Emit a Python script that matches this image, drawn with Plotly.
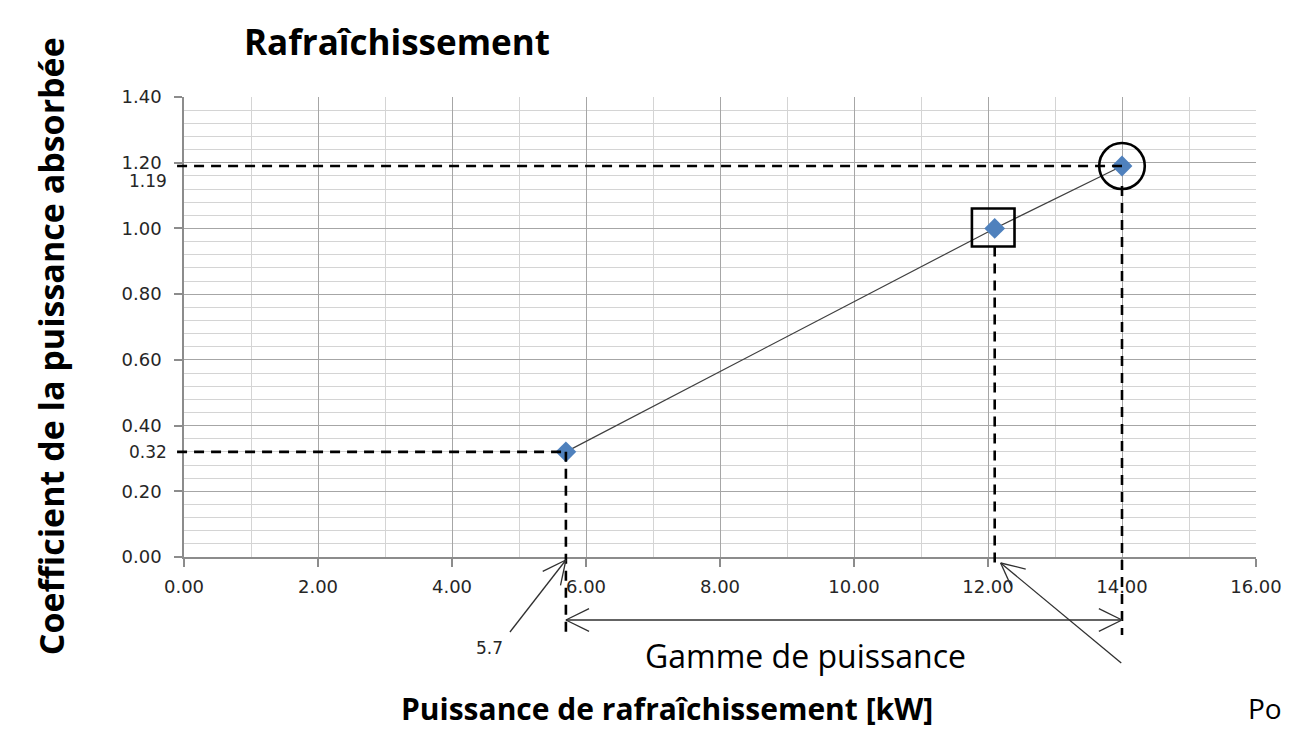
import math
import plotly.graph_objects as go

# ---- data ----
puissance_kw = [5.7, 12.1, 14.0]
coefficient = [0.32, 1.00, 1.19]
point_labels = ["5.7", "12.1", "14.0"]
x_tick_vals = [0, 2, 4, 6, 8, 10, 12, 14, 16]
x_tick_text = ["0.00", "2.00", "4.00", "6.00", "8.00", "10.00", "12.00", "14.00", "16.00"]
y_tick_vals = [0, 0.2, 0.4, 0.6, 0.8, 1.0, 1.2, 1.4]
y_tick_text = ["0.00", "0.20", "0.40", "0.60", "0.80", "1.00", "1.20", "1.40"]
title_text = "Rafraîchissement"
x_title = "Puissance de rafraîchissement [kW]"
y_title = "Coefficient de la puissance absorbée"
range_text = "Gamme de puissance"

# ---- layout geometry (pixels) ----
W, H = 1294, 732
L, R, T, B = 184, 1266, 97, 557
XMAX, YMAX = 16.0, 1.4


def xpx(v):
    return L + v / XMAX * (R - L)


def ypx(v):
    return B - v / YMAX * (B - T)


def px(x, y):
    return (x - L) / (R - L), (B - y) / (B - T)


shapes = []
DASH = dict(color="black", width=2.6, dash="10px,7px")
SOLID = dict(color="#303030", width=1.3)


def pline(x0, y0, x1, y1, line):
    a, b = px(x0, y0)
    c, d = px(x1, y1)
    shapes.append(dict(type="line", xref="paper", yref="paper",
                       x0=a, y0=b, x1=c, y1=d, line=line, layer="above"))


def arrowhead(tx, ty, fx, fy, length=26, half=26):
    ang = math.atan2(fy - ty, fx - tx)
    for s in (-1, 1):
        a = ang + s * math.radians(half)
        pline(tx, ty, tx + length * math.cos(a), ty + length * math.sin(a), SOLID)


x1, x2, x3 = (xpx(v) for v in puissance_kw)
y1, y2, y3 = (ypx(v) for v in coefficient)

# dashed guide lines
pline(177, y3, x3, y3, DASH)
pline(177, y1, x1, y1, DASH)
pline(x1, y1, x1, 635, DASH)
pline(x2, y2 + 18, x2, 569, DASH)
pline(x3, y3 + 20, x3, 635, DASH)

# range double arrow
ya = 620
pline(x1, ya, x3, ya, SOLID)
arrowhead(x1, ya, x3, ya)
arrowhead(x3, ya, x1, ya)

# pointer arrows
pline(513, 632, x1, 560, SOLID)
arrowhead(x1, 560, 513, 632)
pline(1130, 663, x2 + 6, 563, SOLID)
arrowhead(x2 + 6, 563, 1130, 663)

# highlight circle and square
cx0, cy0 = px(x3 - 23, y3 - 23)
cx1, cy1 = px(x3 + 23, y3 + 23)
shapes.append(dict(type="circle", xref="paper", yref="paper", x0=cx0, y0=cy0,
                   x1=cx1, y1=cy1, line=dict(color="black", width=2.6), layer="above"))
sx0, sy0 = px(x2 - 23, y2 - 20)
sx1, sy1 = px(x2 + 20, y2 + 18)
shapes.append(dict(type="rect", xref="paper", yref="paper", x0=sx0, y0=sy0,
                   x1=sx1, y1=sy1, line=dict(color="black", width=2.6), layer="above"))

fig = go.Figure()
fig.add_trace(go.Scatter(
    x=puissance_kw, y=coefficient, mode="lines+markers",
    line=dict(color="#404040", width=1.2),
    marker=dict(symbol="diamond", size=16, color="#4F81BD"),
    text=point_labels, hoverinfo="x+y", showlegend=False,
))

TICKFONT = dict(family="DejaVu Sans", size=18, color="#262626")
BOLD = "Open Sans"

annotations = []


def ann(text, x, y, size, family=BOLD, bold=False, xanchor="center", angle=0, color="black"):
    a, b = px(x, y)
    annotations.append(dict(
        text=f"<b>{text}</b>" if bold else text, x=a, y=b, xref="paper", yref="paper",
        showarrow=False, xanchor=xanchor, yanchor="middle", textangle=angle,
        font=dict(family=family, size=size, color=color)))


ann(title_text, 243, 42, 35, bold=True, xanchor="left")
ann(y_title, 50, 346, 34, bold=True, angle=-90)
ann(x_title, 672, 709, 30, bold=True)
ann(range_text, 811, 655, 32, family="Open Sans")
ann("Po", 1294, 708, 28, family="Open Sans", xanchor="right")
ann(point_labels[0], 492, 648, 17, family="DejaVu Sans", color="#262626")
ann(f"{coefficient[2]:.2f}", 169, 181, 17, family="DejaVu Sans", xanchor="right", color="#262626")
ann(f"{coefficient[0]:.2f}", 169, y1, 17, family="DejaVu Sans", xanchor="right", color="#262626")

fig.update_layout(
    width=W, height=H,
    margin=dict(l=L, r=W - R, t=T, b=H - B),
    paper_bgcolor="white", plot_bgcolor="white",
    shapes=shapes, annotations=annotations,
    xaxis=dict(range=[0, XMAX], tickvals=x_tick_vals, ticktext=x_tick_text,
               tickfont=TICKFONT, showgrid=True, gridcolor="#A6A6A6", gridwidth=1.3,
               minor=dict(dtick=1, showgrid=True, gridcolor="#D4D4D4", gridwidth=1.3),
               showline=True, linecolor="#8C8C8C", linewidth=1.5,
               ticks="outside", ticklen=8, tickcolor="#8C8C8C", tickwidth=1.5,
               ticklabelstandoff=5,
               zeroline=False, fixedrange=True),
    yaxis=dict(range=[0, YMAX], tickvals=y_tick_vals, ticktext=y_tick_text,
               tickfont=TICKFONT, showgrid=True, gridcolor="#A6A6A6", gridwidth=1.3,
               minor=dict(dtick=0.04, showgrid=True, gridcolor="#D4D4D4", gridwidth=1.3),
               showline=True, linecolor="#8C8C8C", linewidth=1.5,
               ticks="outside", ticklen=8, tickcolor="#8C8C8C", tickwidth=1.5,
               ticklabelstandoff=9,
               zeroline=False, fixedrange=True),
)

fig.write_html(
    "out.html",
    config={"displayModeBar": False},
    post_script=(
        "document.documentElement.style.margin='0px';"
        "document.documentElement.style.overflow='hidden';"
        "document.body.style.margin='0px';"
        "document.body.style.overflow='hidden';"
    ),
)
